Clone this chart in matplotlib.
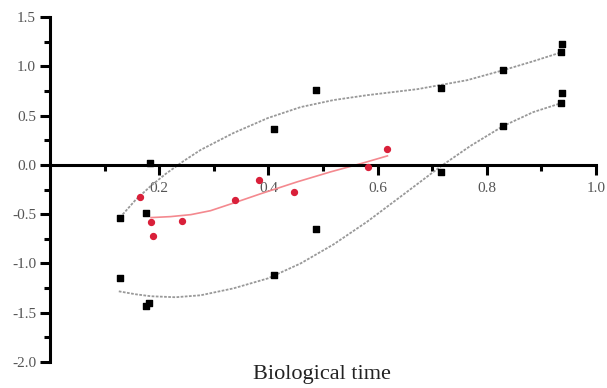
import matplotlib
matplotlib.use("Agg")
import matplotlib.pyplot as plt
from matplotlib.ticker import MultipleLocator, FixedLocator

# Measured points (black squares)
black_x = [0.128, 0.128, 0.176, 0.183, 0.176, 0.181, 0.410, 0.410, 0.488, 0.488,
           0.717, 0.717, 0.830, 0.830, 0.938, 0.936, 0.938, 0.936]
black_y = [-0.535, -1.15, -0.485, 0.02, -1.43, -1.40, 0.36, -1.12, 0.76, -0.65,
           0.78, -0.07, 0.96, 0.39, 1.23, 1.14, 0.73, 0.63]

# Measured points (red circles)
red_x = [0.165, 0.185, 0.188, 0.241, 0.338, 0.382, 0.446, 0.583, 0.618]
red_y = [-0.33, -0.58, -0.72, -0.57, -0.36, -0.15, -0.28, -0.02, 0.16]

# Trend curves
upper_x = [0.128, 0.157, 0.185, 0.212, 0.245, 0.276, 0.336, 0.399, 0.459, 0.519,
           0.581, 0.673, 0.764, 0.830, 0.885, 0.936]
upper_y = [-0.535, -0.354, -0.212, -0.091, 0.040, 0.152, 0.323, 0.475, 0.586, 0.657,
           0.707, 0.768, 0.859, 0.960, 1.051, 1.141]

lower_x = [0.126, 0.157, 0.185, 0.230, 0.276, 0.336, 0.399, 0.459, 0.519, 0.581,
           0.642, 0.717, 0.770, 0.830, 0.885, 0.936]
lower_y = [-1.283, -1.313, -1.333, -1.343, -1.323, -1.253, -1.152, -1.000, -0.808, -0.576,
           -0.323, -0.010, 0.192, 0.394, 0.535, 0.626]

red_fit_x = [0.185, 0.221, 0.258, 0.294, 0.338, 0.386, 0.453, 0.514, 0.574, 0.618]
red_fit_y = [-0.535, -0.525, -0.505, -0.465, -0.384, -0.293, -0.172, -0.071, 0.020, 0.091]

fig = plt.figure(figsize=(6.07, 3.88), dpi=100)
ax = fig.add_axes([50 / 607, 1 - 362 / 388, 546 / 607, 345 / 388])

ax.plot(upper_x, upper_y, color="#999999", lw=1.3, ls=(0, (1.5, 0.8)), zorder=2)
ax.plot(lower_x, lower_y, color="#999999", lw=1.3, ls=(0, (1.5, 0.8)), zorder=2)
ax.plot(red_fit_x, red_fit_y, color="#f4898f", lw=1.2, zorder=2)

ax.scatter(black_x, black_y, marker="s", s=22, color="black", zorder=3)
ax.scatter(red_x, red_y, marker="o", s=18, color="#d9203a", zorder=3)

ax.set_xlim(0, 1.0)
ax.set_ylim(-2.0, 1.5)

# x axis sits on y = 0, no top/right frame
ax.spines["bottom"].set_position(("data", 0))
ax.spines["top"].set_visible(False)
ax.spines["right"].set_visible(False)
ax.spines["bottom"].set_linewidth(2.2)
ax.spines["left"].set_linewidth(2.2)

ax.xaxis.set_major_locator(FixedLocator([0.2, 0.4, 0.6, 0.8, 1.0]))
ax.xaxis.set_minor_locator(FixedLocator([0.1, 0.3, 0.5, 0.7, 0.9]))
ax.yaxis.set_major_locator(MultipleLocator(0.5))
ax.yaxis.set_minor_locator(MultipleLocator(0.25))

ax.tick_params(which="major", direction="out", length=7, width=2.2)
ax.tick_params(which="minor", direction="out", length=4, width=2.2)
ax.tick_params(axis="both", labelsize=11, labelcolor="#555555", pad=3)
ax.tick_params(axis="x", pad=5)

ax.set_yticklabels([f"{v:.1f}" for v in ax.get_yticks()])
ax.set_xticklabels(["0.2", "0.4", "0.6", "0.8", "1.0"])
for lbl in ax.get_xticklabels() + ax.get_yticklabels():
    lbl.set_family("Liberation Serif")

fig.text(322 / 607, 1 - 375 / 388, "Biological time", ha="center", va="center",
         fontsize=16, family="Liberation Serif", color="#222222")

fig.savefig("out.png", dpi=100)
